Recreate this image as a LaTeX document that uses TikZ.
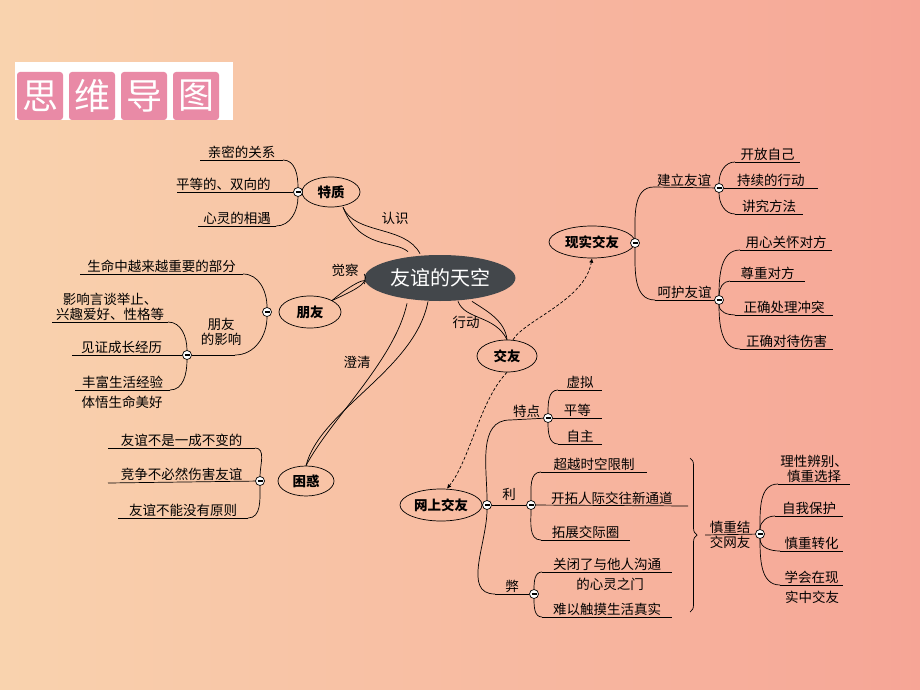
\documentclass[tikz,border=0pt]{standalone}
\usepackage{fontspec}
\setmainfont{Noto Sans CJK SC}
\usepackage{tikz}
\usetikzlibrary{shapes.geometric,arrows.meta,decorations.pathreplacing}
\tikzstyle{leaf} = [inner sep=1pt, font=\fontsize{13.5}{15}\selectfont]
\tikzstyle{oval} = [draw, ellipse, font=\bfseries\fontsize{13.5}{15}\selectfont, inner sep=1pt]
\tikzstyle{minus} = [draw, circle, fill=white, minimum size=9pt, inner sep=0pt, path picture={\draw[line width=1.3pt] ([xshift=-2.5pt]path picture bounding box.center) -- ([xshift=2.5pt]path picture bounding box.center);}]
\tikzstyle{line} = [draw, -{Latex[length=1.5mm,width=1.5mm]}, densely dashed]
\definecolor{peach}{HTML}{F9D3AE}
\definecolor{salmon}{HTML}{F6A596}
\definecolor{tpink}{HTML}{E98AA6}
\definecolor{slate}{HTML}{43474B}

\begin{document}
\begin{tikzpicture}[x=1pt, y=-1pt, line width=0.7pt]
            \shade[left color=peach, right color=salmon] (0,0) rectangle (920,690);
            \useasboundingbox (0,0) rectangle (920,690);
            % title
            \fill[white] (15,62) rectangle (233,120);
            \foreach \c [count=\i] in {思,维,导,图}
                \node[fill=tpink, rounded corners=3pt, minimum width=46pt, minimum height=48pt, text=white, font=\fontsize{36}{38}\selectfont, inner sep=0pt] (t\i) at (40+52*\i-52,96) {\c};
            % centre
            \node[ellipse, fill=slate, text=white, minimum width=132pt, minimum height=46pt, font=\itshape\fontsize{20}{22}\selectfont] (root) at (440,278) {友谊的天空};
            % 特质
            \node[oval, minimum width=58pt, minimum height=30pt] (tz) at (331,192) {特质};
            \node[minus] (mtz) at (298,192) {};
            \draw (200,160) -- (283,160) coordinate (tz1) node[leaf, midway, above] {亲密的关系};
            \draw (177,192) -- (mtz) node[leaf, pos=0.4, above] {平等的、双向的};
            \draw (198,226) -- (276,226) coordinate (tz3) node[leaf, midway, above] {心灵的相遇};
            \draw (mtz) to[out=90, in=0] (tz1);
            \draw (mtz) to[out=-90, in=0] (tz3);
            \draw ([xshift=12pt]tz.south) .. controls (355,235) and (405,225) .. ([xshift=-20pt,yshift=1pt]root.north);
            \draw ([xshift=12pt]tz.south) .. controls (360,250) and (395,240) .. ([xshift=-32pt,yshift=3pt]root.north);
            \node[leaf] (rs) at (395,218) {认识};
            % 朋友
            \node[oval, minimum width=62pt, minimum height=32pt] (py) at (310,312) {朋友};
            \node[minus] (mpy) at (267,312) {};
            \draw (80,274) -- (243,274) coordinate (py1) node[leaf, midway, above] {生命中越来越重要的部分};
            \draw (mpy) to[out=90, in=0] (py1);
            \node[leaf, align=center] (yx) at (221,332) {朋友\\的影响};
            \node[minus] (myx) at (187,355) {};
            \draw (myx) -- (235,355) coordinate (yxe);
            \draw (mpy) to[out=-90, in=0] (yxe);
            \draw (52,322) -- (168,322) coordinate (yx1) node[leaf, align=center, midway, above] {影响言谈举止、\\兴趣爱好、性格等};
            \draw (72,355) -- (myx) node[leaf, pos=0.45, above] {见证成长经历};
            \draw (75,390) -- (170,390) coordinate (yx3) node[leaf, midway, above] {丰富生活经验};
            \node[leaf] (yx4) at (122,402) {体悟生命美好};
            \draw (myx) to[out=90, in=0] (yx1);
            \draw (myx) to[out=-90, in=0] (yx3);
            \draw (py.north east) .. controls (350,285) and (370,275) .. ([yshift=-6pt]root.west);
            \draw (py.north east) .. controls (355,290) and (370,283) .. ([yshift=4pt]root.west);
            \node[leaf] (jc) at (345,270) {觉察};
            % 困惑
            \node[oval, minimum width=56pt, minimum height=30pt] (kh) at (306,481) {困惑};
            \node[minus] (mkh) at (260,481) {};
            \draw (108,448) -- (255,448) coordinate (kh1) node[leaf, midway, above] {友谊不是一成不变的};
            \draw (108,483) -- (mkh) node[leaf, midway, above] {竞争不必然伤害友谊};
            \draw (118,518) -- (248,518) coordinate (kh3) node[leaf, midway, above] {友谊不能没有原则};
            \draw (mkh) to[out=90, in=0] (kh1);
            \draw (mkh) to[out=-90, in=0] (kh3);
            \draw (kh.north) .. controls (330,420) and (395,360) .. ([xshift=-33pt,yshift=-2pt]root.south);
            \draw (kh.north) .. controls (320,410) and (415,370) .. ([xshift=-12pt]root.south);
            \node[leaf] (cq) at (357,362) {澄清};
            % 交友
            \node[oval, minimum width=60pt, minimum height=32pt] (jy) at (507,356) {交友};
            \draw ([xshift=18pt]root.south) .. controls (465,320) and (495,315) .. (jy.north);
            \draw ([xshift=32pt]root.south) .. controls (485,310) and (505,320) .. (jy.north);
            \node[leaf] (xd) at (466,322) {行动};
            % 现实交友
            \node[oval, minimum width=86pt, minimum height=32pt] (xs) at (592,242) {现实交友};
            \node[minus] (mxs) at (635,243) {};
            \path[line] ([xshift=6pt]jy.north) .. controls (525,320) and (585,300) .. (xs.south);
            \node[minus] (mjl) at (719,188) {};
            \draw (654,187) -- (mjl) node[leaf, midway, above] {建立友谊};
            \draw (mxs) to[out=90, in=180] (654,187);
            \draw (735,162) -- (800,162) node[leaf, midway, above] {开放自己};
            \draw (mjl) -- (818,188) node[leaf, midway, above] {持续的行动};
            \draw (735,214) -- (803,214) node[leaf, midway, above] {讲究方法};
            \draw (mjl) to[out=90, in=180] (735,162);
            \draw (mjl) to[out=-90, in=180] (735,214);
            \node[minus] (mhh) at (719,300) {};
            \draw (655,300) -- (mhh) node[leaf, midway, above] {呵护友谊};
            \draw (mxs) to[out=-90, in=180] (655,300);
            \draw (740,250) -- (832,250) node[leaf, midway, above] {用心关怀对方};
            \draw (730,281) -- (805,281) node[leaf, midway, above] {尊重对方};
            \draw (735,315) -- (833,315) node[leaf, midway, above] {正确处理冲突};
            \draw (740,349) -- (833,349) node[leaf, midway, above] {正确对待伤害};
            \draw (mhh) to[out=90, in=180] (740,250);
            \draw (mhh) to[out=90, in=180] (730,281);
            \draw (mhh) to[out=-90, in=180] (735,315);
            \draw (mhh) to[out=-90, in=180] (740,349);
            % 网上交友
            \node[oval, minimum width=82pt, minimum height=32pt] (ws) at (441,505) {网上交友};
            \node[minus] (mws) at (487,505) {};
            \path[line] (jy.south) .. controls (480,400) and (470,460) .. ([xshift=6pt]ws.north);
            \node[minus] (mtd) at (548,418) {};
            \draw (510,420) -- (mtd) node[leaf, midway, above] {特点};
            \draw (mws) to[out=90, in=180] (510,420);
            \draw (558,390) -- (602,390) node[leaf, midway, above] {虚拟};
            \draw (mtd) -- (602,418) node[leaf, midway, above] {平等};
            \draw (558,444) -- (602,444) node[leaf, midway, above] {自主};
            \draw (mtd) to[out=90, in=180] (558,390);
            \draw (mtd) to[out=-90, in=180] (558,444);
            \node[minus] (mli) at (531,505) {};
            \draw (mws) -- (mli) node[leaf, midway, above=3pt] {利};
            \draw (541,472) -- (647,472) node[leaf, midway, above] {超越时空限制};
            \draw (mli) -- (688,506) node[leaf, midway, above] {开拓人际交往新通道};
            \draw (541,540) -- (630,540) node[leaf, midway, above] {拓展交际圈};
            \draw (mli) to[out=90, in=180] (541,472);
            \draw (mli) to[out=-90, in=180] (541,540);
            \node[minus] (mbi) at (534,594) {};
            \draw (495,594) -- (mbi) node[leaf, midway, above] {弊};
            \draw (mws) to[out=-90, in=180] (495,594);
            \draw (542,572) -- (672,572) node[leaf, midway, above] {关闭了与他人沟通};
            \node[leaf] (bi1) at (610,584) {的心灵之门};
            \draw (542,617) -- (672,617) node[leaf, midway, above] {难以触摸生活真实};
            \draw (mbi) to[out=90, in=180] (542,572);
            \draw (mbi) to[out=-90, in=180] (542,617);
            \draw[decorate, decoration={brace, amplitude=7pt}] (690,458) -- (690,612);
            \node[minus] (msz) at (760,534) {};
            \draw (705,535) -- (msz) node[leaf, midway, above] {慎重结} node[leaf, midway, below] {交网友};
            \draw (778,484) -- (850,484) node[leaf, align=center, midway, above] {理性辨别、\\慎重选择};
            \draw (775,516) -- (843,516) node[leaf, midway, above] {自我保护};
            \draw (780,551) -- (843,551) node[leaf, midway, above] {慎重转化};
            \draw (780,585) -- (843,585) node[leaf, midway, above] {学会在现};
            \node[leaf] (sz5) at (812,597) {实中交友};
            \draw (msz) to[out=90, in=180] (778,484);
            \draw (msz) to[out=90, in=180] (775,516);
            \draw (msz) to[out=-90, in=180] (780,551);
            \draw (msz) to[out=-90, in=180] (780,585);
\end{tikzpicture}
\end{document}
